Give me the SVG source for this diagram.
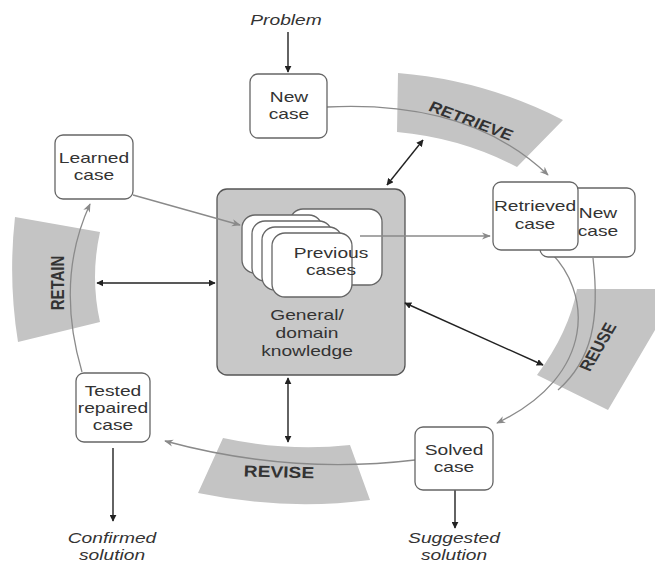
<svg xmlns="http://www.w3.org/2000/svg" width="655" height="564" viewBox="0 0 655 564">
<defs>
<style>
.t{font-family:"Liberation Sans",Arial,sans-serif;font-size:15px;fill:#333;text-anchor:middle}
.i{font-style:italic}
.b{font-weight:bold;font-size:15px;fill:#333;dominant-baseline:central}
.box{fill:#fff;stroke:#666;stroke-width:1.3}
.band{fill:#c4c4c4;stroke:none}
.k{fill:none;stroke:#222;stroke-width:1.4}
.g{fill:none;stroke:#8a8a8a;stroke-width:1.3}
</style>
<marker id="ak" viewBox="0 0 10 10" refX="9" refY="5" markerWidth="7" markerHeight="7" orient="auto-start-reverse" markerUnits="userSpaceOnUse"><path d="M0,0 L10,5 L0,10 z" fill="#222"/></marker>
<marker id="ag" viewBox="0 0 10 10" refX="9" refY="5" markerWidth="9" markerHeight="9" orient="auto" markerUnits="userSpaceOnUse"><path d="M0,1 L10,5 L0,9 L3,5 z" fill="#8a8a8a"/></marker>
</defs>
<rect width="655" height="564" fill="#fff"/>

<g id="bands">
<path class="band" d="M398,73 Q485,80 563,120 L517,167 Q462,138 397,132 Z"/>
<path class="band" d="M15,217 L100,232 Q90,277 100,322 L18,342 Q8,280 15,217 Z"/>
<path class="band" d="M577,289 L655,289 L655,330 L608,410 L537,375 Q569,332 577,289 Z"/>
<path class="band" d="M223,438 Q288,452 350,445 L370,500 Q285,511 198,493 Z"/>
<text class="t b" transform="translate(471,121) scale(1.2,1) rotate(24)">RETRIEVE</text>
<text class="t b" transform="translate(598,347) scale(1.2,1) rotate(-64)">REUSE</text>
<text class="t b" transform="translate(279,472) scale(1.2,1) rotate(2)" style="font-size:16px">REVISE</text>
<text class="t b" transform="translate(58,283) scale(1.2,1) rotate(-90)">RETAIN</text>
</g>

<g id="knowledge">
<rect x="217" y="189" width="188" height="186" rx="10" fill="#c8c8c8" stroke="#555" stroke-width="1.3"/>
<rect class="box" x="290" y="209" width="92" height="76" rx="13"/>
<rect class="box" x="242" y="215" width="80" height="58" rx="13"/>
<rect class="box" x="252" y="221" width="80" height="60" rx="13"/>
<rect class="box" x="262" y="227" width="80" height="63" rx="13"/>
<rect class="box" x="272" y="233" width="80" height="64" rx="13"/>
<text class="t" transform="translate(331,258) scale(1.28,1)">Previous</text>
<text class="t" transform="translate(331,275) scale(1.28,1)">cases</text>
<text class="t" transform="translate(307,320) scale(1.28,1)">General/</text>
<text class="t" transform="translate(307,338) scale(1.28,1)">domain</text>
<text class="t" transform="translate(307,356) scale(1.28,1)">knowledge</text>
</g>

<g id="connectors">
<line class="k" x1="288" y1="32" x2="288" y2="72" marker-end="url(#ak)"/>
<path class="g" d="M327,107 Q470,100 548,175" marker-end="url(#ag)"/>
<line class="k" x1="387" y1="185" x2="423" y2="140" marker-start="url(#ak)" marker-end="url(#ak)"/>
<line class="g" x1="133" y1="195" x2="240" y2="225" marker-end="url(#ag)"/>
<line class="g" x1="360" y1="236" x2="490" y2="236" marker-end="url(#ag)"/>
<path class="g" d="M548,250 C592,290 598,375 497,423" marker-end="url(#ag)"/>
<path class="g" d="M593,258 C600,320 592,360 558,390"/>
<line class="k" x1="405" y1="303" x2="543" y2="365" marker-start="url(#ak)" marker-end="url(#ak)"/>
<path class="g" d="M415,460 Q290,475 165,441" marker-end="url(#ag)"/>
<line class="k" x1="288" y1="378" x2="288" y2="442" marker-start="url(#ak)" marker-end="url(#ak)"/>
<path class="g" d="M82,372 Q55,280 90,204" marker-end="url(#ag)"/>
<line class="k" x1="97" y1="283" x2="215" y2="283" marker-start="url(#ak)" marker-end="url(#ak)"/>
<line class="k" x1="113" y1="448" x2="113" y2="521" marker-end="url(#ak)"/>
<line class="k" x1="455" y1="490" x2="455" y2="528" marker-end="url(#ak)"/>
</g>

<g id="problem"><text class="t i" transform="translate(286,25) scale(1.28,1)">Problem</text></g>

<g id="new-case">
<rect class="box" x="250" y="74" width="77" height="64" rx="8"/>
<text class="t" transform="translate(289,102) scale(1.28,1)">New</text>
<text class="t" transform="translate(289,119) scale(1.28,1)">case</text>
</g>

<g id="learned-case">
<rect class="box" x="55" y="135" width="78" height="64" rx="8"/>
<text class="t" transform="translate(94,163) scale(1.28,1)">Learned</text>
<text class="t" transform="translate(94,180) scale(1.28,1)">case</text>
</g>

<g id="new-case-2">
<rect class="box" x="540" y="188" width="95" height="69" rx="8"/>
<text class="t" transform="translate(598,218) scale(1.28,1)">New</text>
<text class="t" transform="translate(598,236) scale(1.28,1)">case</text>
</g>

<g id="retrieved-case">
<rect class="box" x="493" y="182" width="85" height="68" rx="8"/>
<text class="t" transform="translate(535,211) scale(1.28,1)">Retrieved</text>
<text class="t" transform="translate(535,229) scale(1.28,1)">case</text>
</g>

<g id="solved-case">
<rect class="box" x="415" y="427" width="78" height="63" rx="8"/>
<text class="t" transform="translate(454,455) scale(1.28,1)">Solved</text>
<text class="t" transform="translate(454,472) scale(1.28,1)">case</text>
</g>

<g id="tested-case">
<rect class="box" x="76" y="373" width="74" height="69" rx="8"/>
<text class="t" transform="translate(113,396) scale(1.28,1)">Tested</text>
<text class="t" transform="translate(113,413) scale(1.28,1)">repaired</text>
<text class="t" transform="translate(113,430) scale(1.28,1)">case</text>
</g>

<g id="confirmed"><text class="t i" transform="translate(112,543) scale(1.28,1)">Confirmed</text>
<text class="t i" transform="translate(112,560) scale(1.28,1)">solution</text></g>

<g id="suggested"><text class="t i" transform="translate(454,543) scale(1.28,1)">Suggested</text>
<text class="t i" transform="translate(454,560) scale(1.28,1)">solution</text></g>
</svg>
